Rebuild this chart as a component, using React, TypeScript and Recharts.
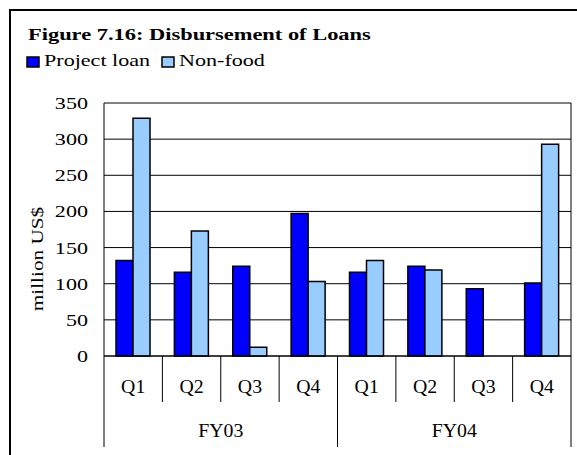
import React from 'react'
import { Bar, BarChart, CartesianGrid, XAxis, YAxis } from 'recharts'

const quarters = ['Q1', 'Q2', 'Q3', 'Q4', 'Q1', 'Q2', 'Q3', 'Q4']
const fiscalYears = ['FY03', 'FY03', 'FY03', 'FY03', 'FY04', 'FY04', 'FY04', 'FY04']
const projectLoan = [132, 116, 124, 197, 116, 124, 93, 101]
const nonFood = [329, 173, 12, 103, 132, 119, 0, 293]
const yTicks = [0, 50, 100, 150, 200, 250, 300, 350]

const series = [
  { key: 'projectLoan', name: 'Project loan', color: '#0000FF' },
  { key: 'nonFood', name: 'Non-food', color: '#99CCFF' }
]

const data = quarters.map((q, i) => ({
  q,
  fy: fiscalYears[i],
  projectLoan: projectLoan[i],
  nonFood: nonFood[i]
}))

const SERIF = '"Liberation Serif", "Times New Roman", serif'
const WIDTH = 577
const HEIGHT = 455
const MARGIN = { top: 103, right: 6, bottom: 8, left: 0 }
const Y_AXIS_W = 104
const X_AXIS_H = 91
const PLOT_W = WIDTH - MARGIN.left - MARGIN.right - Y_AXIS_W

function ValueTick({ x, y, payload }: any) {
  return (
    <text
      transform={`translate(${x},${y + 6}) scale(1.3,1)`}
      textAnchor="end"
      fontSize={17}
      fontFamily={SERIF}
      fill="#000"
    >
      {payload.value}
    </text>
  )
}

function QuarterTick({ x, y, payload, index }: any) {
  const band = PLOT_W / quarters.length
  const left = x - band / 2
  const yearStart = index === 0 || fiscalYears[index] !== fiscalYears[index - 1]
  const isLast = index === quarters.length - 1
  const yearCount = fiscalYears.filter((f) => f === fiscalYears[index]).length
  return (
    <g>
      <line
        x1={left}
        x2={left}
        y1={y}
        y2={y + (yearStart ? X_AXIS_H : 46)}
        stroke="#000"
      />
      {isLast && (
        <line x1={left + band} x2={left + band} y1={y} y2={y + X_AXIS_H} stroke="#000" />
      )}
      <text
        transform={`translate(${x},${y + 37}) scale(1.1,1)`}
        textAnchor="middle"
        fontSize={18}
        fontFamily={SERIF}
        fill="#000"
      >
        {payload.value}
      </text>
      {yearStart && (
        <text
          transform={`translate(${left + (band * yearCount) / 2},${y + 81}) scale(1.1,1)`}
          textAnchor="middle"
          fontSize={18}
          fontFamily={SERIF}
          fill="#000"
        >
          {fiscalYears[index]}
        </text>
      )}
    </g>
  )
}

export default function App() {
  return (
    <div
      style={{
        position: 'fixed',
        left: 0,
        top: 0,
        width: WIDTH,
        height: HEIGHT,
        overflow: 'hidden',
        background: '#fff'
      }}
    >
      <div style={{ position: 'absolute', left: 0, top: 0 }}>
        <BarChart
          width={WIDTH}
          height={HEIGHT}
          data={data}
          margin={MARGIN}
          barCategoryGap={12}
          barGap={0}
        >
          <CartesianGrid
            stroke="#000"
            verticalCoordinatesGenerator={({ offset }: any) => [offset.left + offset.width]}
          />
          <XAxis
            dataKey="q"
            height={X_AXIS_H}
            axisLine={{ stroke: '#000' }}
            tickLine={false}
            tickSize={0}
            tickMargin={0}
            interval={0}
            tick={<QuarterTick />}
          />
          <YAxis
            width={Y_AXIS_W}
            domain={[0, 350]}
            ticks={yTicks}
            axisLine={{ stroke: '#000' }}
            tickLine={false}
            tickSize={0}
            tickMargin={16}
            interval={0}
            tick={<ValueTick />}
          />
          {series.map((s) => (
            <Bar
              key={s.key}
              dataKey={s.key}
              name={s.name}
              fill={s.color}
              stroke="#000"
              strokeWidth={1.5}
              isAnimationActive={false}
            />
          ))}
        </BarChart>
      </div>
      <svg
        width={WIDTH}
        height={HEIGHT}
        style={{ position: 'absolute', left: 0, top: 0, pointerEvents: 'none' }}
      >
        <path d={`M10,${HEIGHT} V10 H${WIDTH}`} fill="none" stroke="#000" strokeWidth={2} />
        <text
          transform="translate(28,40) scale(1.32,1)"
          fontSize={17}
          fontWeight="bold"
          fontFamily={SERIF}
          fill="#000"
        >
          Figure 7.16: Disbursement of Loans
        </text>
        {series.map((s, i) => {
          const x0 = 27 + i * 135
          return (
            <g key={s.key}>
              <rect x={x0} y={57} width={12} height={10} fill={s.color} stroke="#000" strokeWidth={1.5} />
              <text
                transform={`translate(${x0 + 17},65.5) scale(1.3,1)`}
                fontSize={17}
                fontFamily={SERIF}
                fill="#000"
              >
                {s.name}
              </text>
            </g>
          )
        })}
        <text
          transform="translate(43,259) rotate(-90) scale(1.25,1)"
          textAnchor="middle"
          fontSize={17}
          fontFamily={SERIF}
          fill="#000"
        >
          million US$
        </text>
      </svg>
    </div>
  )
}
